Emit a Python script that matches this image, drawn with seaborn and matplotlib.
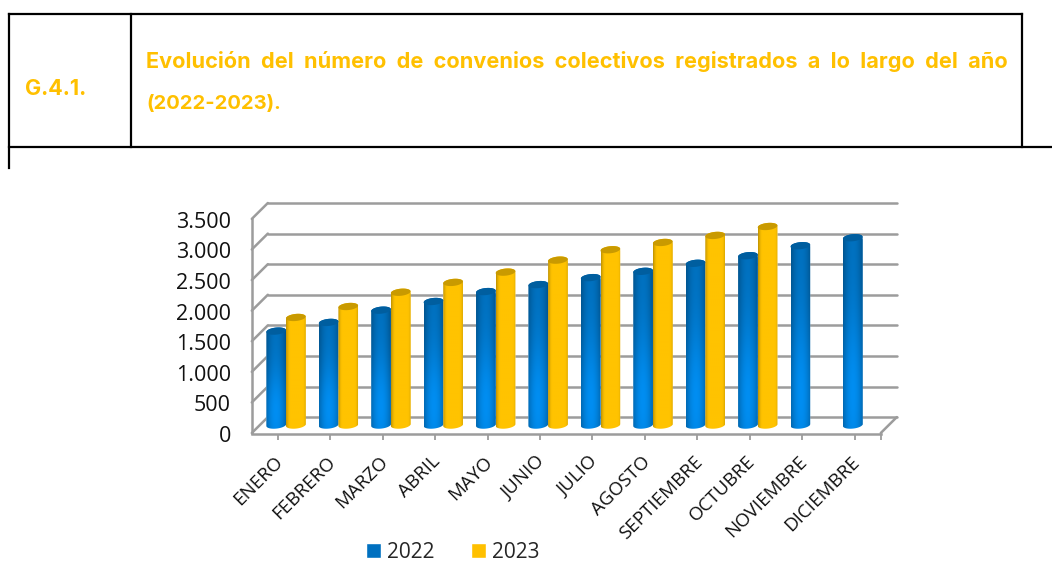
import numpy as np
import pandas as pd
import matplotlib
matplotlib.use('Agg')
import matplotlib.pyplot as plt
import matplotlib.transforms as mtransforms
from matplotlib.lines import Line2D
from matplotlib.patches import Polygon
import seaborn as sns

# values
months = ['ENERO', 'FEBRERO', 'MARZO', 'ABRIL', 'MAYO', 'JUNIO', 'JULIO',
          'AGOSTO', 'SEPTIEMBRE', 'OCTUBRE', 'NOVIEMBRE', 'DICIEMBRE']
values_2022 = [1536, 1678, 1878, 2020, 2182, 2296, 2410, 2513, 2644, 2769, 2932, 3062]
values_2023 = [1759, 1938, 2171, 2332, 2500, 2696, 2866, 2985, 3100, 3246, np.nan, np.nan]
years = ['2022', '2023']
y_ticks = [0, 500, 1000, 1500, 2000, 2500, 3000, 3500]
y_labels = ['0', '500', '1.000', '1.500', '2.000', '2.500', '3.000', '3.500']
code_text = 'G.4.1.'
title_line1 = 'Evolución del número de convenios colectivos registrados a lo largo del año'
title_line2 = '(2022-2023).'

W, H = 1052, 561
YELLOW = '#FFC000'
GREY = '#9C9C9C'

# fake depth of the 3d box, in data units
DX = 0.153
DY = 130

sns.set_theme(style='white')
plt.rcParams['font.family'] = ['Open Sans', 'DejaVu Sans']

fig = plt.figure(figsize=(W / 100, H / 100), dpi=100)
ax = fig.add_axes([251.8 / W, (H - 434) / H, 645 / W, 231 / H])
ax.patch.set_alpha(0)

df = pd.DataFrame({
    'mes': months * 2,
    'year': [years[0]] * 12 + [years[1]] * 12,
    'valor': values_2022 + values_2023,
})
sns.barplot(data=df, x='mes', y='valor', hue='year', order=months,
            hue_order=years, palette=['#0070C0', YELLOW], width=0.75, gap=0,
            saturation=1, ax=ax)


def blue_shade(u, v):
    # bright spot low on the bar, darker towards the edges
    glow = np.exp(-((v - 0.17) / 0.42) ** 2)
    edge = 1 - 0.25 * u ** 2
    r = 0 * glow
    g = (112 + 30 * glow) * edge
    b = (190 + 52 * glow) * edge
    return np.dstack([r, g, b]) / 255


def yellow_shade(u, v):
    left = np.clip(-u - 0.55, 0, 1) / 0.45
    right = np.clip(u - 0.7, 0, 1) / 0.3
    edge = 1 - 0.24 * left ** 2 - 0.13 * right ** 2
    r = 255 * edge
    g = 195 * edge
    b = 0 * edge
    return np.dstack([r, g, b]) / 255


def draw_cylinder(bar, shade, cap_color):
    x0 = bar.get_x()
    w = bar.get_width()
    top = bar.get_height()
    if np.isnan(top) or top == 0:
        return
    xc = x0 + w / 2
    cap = 58
    tilt = 30
    t = np.linspace(0, np.pi, 30)
    ex = xc + np.cos(t) * w / 2
    shear = np.cos(t) * tilt / 2
    upper = np.column_stack([ex, top + np.sin(t) * cap + shear])
    lower = np.column_stack([ex[::-1], -np.sin(t[::-1]) * cap + shear[::-1]])
    body = Polygon(np.vstack([upper, lower]), transform=ax.transData)

    u, v = np.meshgrid(np.linspace(-1, 1, 30), np.linspace(1, 0, 60))
    ax.imshow(shade(u, v), extent=(x0, x0 + w, -cap - tilt, top + cap + tilt),
              aspect='auto', interpolation='bilinear', zorder=3,
              clip_path=body)
    bar.set_clip_path(body)

    rim = np.vstack([upper, np.column_stack(
        [ex[::-1], top - np.sin(t[::-1]) * cap + shear[::-1]])])
    ax.add_patch(Polygon(rim, closed=True, facecolor=cap_color,
                         edgecolor='none', zorder=3.5))


for bar in ax.containers[0]:
    draw_cylinder(bar, blue_shade, '#005E9F')
for bar in ax.containers[1]:
    draw_cylinder(bar, yellow_shade, '#C99A00')

# box: back wall, side wall and floor
x_left, x_right = -0.5, 11.5
for val in y_ticks:
    ax.plot([x_left + DX, x_right + DX], [val + DY, val + DY], color=GREY,
            lw=1.8, zorder=0.5, clip_on=False)
    ax.plot([x_left - DX, x_left + DX], [val - DY, val + DY], color=GREY,
            lw=1.8, zorder=0.5, clip_on=False)
ax.plot([x_right - DX, x_right + DX], [-DY, DY], color=GREY, lw=1.8,
        zorder=0.5, clip_on=False)

ax.set_xlim(x_left - DX, x_right + DX)
ax.set_ylim(-DY, 3500 + DY)

ax.set_yticks(np.array(y_ticks) - DY - 16, y_labels)
ax.set_xticks(np.arange(12) - DX, months)
ax.set_xticks([x_right - DX], minor=True)
ax.tick_params(axis='y', length=0, pad=15, labelsize=15.5, colors='#111111')
ax.tick_params(axis='x', which='both', length=4, width=1.3, color=GREY,
               bottom=True, pad=8)
ax.tick_params(axis='x', labelsize=13.5, labelcolor='#111111')
label_shift = mtransforms.ScaledTranslation(-4 / 100, -2 / 100, fig.dpi_scale_trans)
for lab in ax.get_xticklabels():
    lab.set_rotation(45)
    lab.set_ha('right')
    lab.set_rotation_mode('anchor')
    lab.set_transform(lab.get_transform() + label_shift)
ax.set_xlabel('')
ax.set_ylabel('')

sns.despine(ax=ax, top=True, right=True)
ax.spines['left'].set_color(GREY)
ax.spines['left'].set_linewidth(1.8)
ax.spines['left'].set_bounds(-DY, 3500 - DY)
ax.spines['bottom'].set_color(GREY)
ax.spines['bottom'].set_linewidth(1.8)
ax.spines['bottom'].set_bounds(x_left - DX, x_right - DX)

sns.move_legend(ax, 'center', bbox_to_anchor=(453 / W, (H - 552) / H),
                bbox_transform=fig.transFigure, ncol=2, frameon=False,
                title=None, fontsize=15, handlelength=0.7, handleheight=0.7,
                handletextpad=0.3, columnspacing=1.75)

# table round the heading
rules = [
    ([9, 1022], [14, 14]),
    ([9, 1052], [147, 147]),
    ([9, 9], [14, 168]),
    ([131, 131], [14, 147]),
    ([1022, 1022], [14, 147]),
]
for xs, ys in rules:
    fig.add_artist(Line2D(np.array(xs) / W, 1 - np.array(ys) / H, color='black',
                          lw=1.6, solid_capstyle='projecting'))

fig.text(25 / W, 1 - 89 / H, code_text, color=YELLOW, fontsize=15.5,
         fontweight='bold', va='center', ha='left', family='Inter')
# the heading is justified in the source, double spaces widen the line to fit
fig.text(146 / W, 1 - 62 / H, title_line1.replace(' ', '  '), color=YELLOW,
         fontsize=15.6, fontweight='bold', va='center', ha='left', family='Inter')
fig.text(146 / W, 1 - 104 / H, title_line2, color=YELLOW, fontsize=14.5,
         fontweight='bold', va='center', ha='left', family='Inter')

fig.savefig('out.png', dpi=100)
